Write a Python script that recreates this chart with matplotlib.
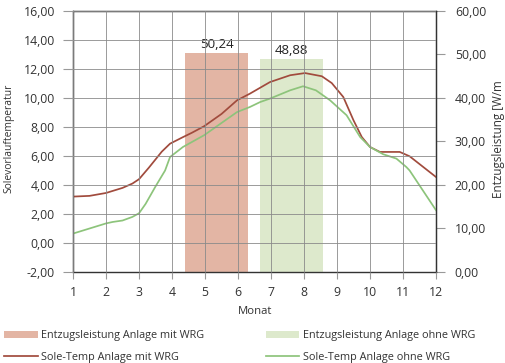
import matplotlib
matplotlib.use("Agg")
import matplotlib.pyplot as plt
from matplotlib.ticker import FuncFormatter, MultipleLocator

plt.rcParams['font.family'] = ['Open Sans', 'DejaVu Sans']

# Sole-Temperatur (Monat, Wert)
mit_x = [1.0, 1.5, 2.0, 2.5, 2.8, 3.0, 3.3, 3.69, 3.94, 4.33, 4.6, 4.97, 5.5, 5.97,
         6.36, 6.97, 7.58, 8.03, 8.54, 8.84, 9.19, 9.5, 9.75, 10.0, 10.3, 10.9,
         11.2, 12.0]
mit_y = [3.2, 3.25, 3.45, 3.8, 4.1, 4.4, 5.2, 6.3, 6.85, 7.3, 7.6, 8.05, 8.9, 9.84,
         10.3, 11.1, 11.57, 11.72, 11.5, 11.03, 10.07, 8.46, 7.31, 6.62, 6.28, 6.28,
         5.98, 4.55]

ohne_x = [1.0, 1.5, 2.0, 2.2, 2.5, 2.8, 3.0, 3.2, 3.5, 3.79, 3.94, 4.33, 4.97, 5.97,
          6.36, 6.67, 6.97, 7.58, 7.97, 8.36, 8.79, 9.29, 9.7, 10.0, 10.4, 10.8,
          11.1, 11.2, 12.0]
ohne_y = [0.65, 1.0, 1.35, 1.45, 1.55, 1.8, 2.05, 2.7, 3.9, 5.0, 5.93, 6.62, 7.43, 9.03,
          9.38, 9.72, 9.96, 10.53, 10.81, 10.53, 9.84, 8.81, 7.31, 6.62, 6.12, 5.82,
          5.24, 5.0, 2.26]

# Entzugsleistung [W/m]
bar_labels = ["Entzugsleistung Anlage mit WRG", "Entzugsleistung Anlage ohne WRG"]
bar_values = [50.24, 48.88]
bar_pos = [5.35, 7.62]

months = list(range(1, 13))

red_line = "#a14b3d"
green_line = "#8dc47b"
red_bar = "#e3b5a4"
green_bar = "#dde9cc"
txt = "#333333"

fig = plt.figure(figsize=(5.06, 3.63), dpi=100)
ax = fig.add_axes([0.1443, 0.2507, 0.7174, 0.719])
ax2 = ax.twinx()
ax.set_zorder(2)
ax.patch.set_visible(False)

bars = ax2.bar(bar_pos, bar_values, width=1.91, color=[red_bar, green_bar],
               linewidth=0)
for b, v in zip(bars, bar_values):
    ax2.annotate(("%.2f" % v).replace(".", ","),
                 (b.get_x() + b.get_width() / 2, v),
                 xytext=(0, 2), textcoords="offset points",
                 ha="center", va="bottom", fontsize=9.5, color="#222222")

l1, = ax.plot(mit_x, mit_y, color=red_line, lw=1.25)
l2, = ax.plot(ohne_x, ohne_y, color=green_line, lw=1.25)

comma = FuncFormatter(lambda v, p: ("%.2f" % v).replace(".", ","))

ax.set_xlim(1, 12)
ax.set_ylim(-2, 16)
ax.set_xticks(months)
ax.yaxis.set_major_locator(MultipleLocator(2))
ax.yaxis.set_major_formatter(comma)
ax.grid(True, color="#8a8a8a", lw=0.6)
ax.set_axisbelow(False)

ax2.set_ylim(0, 60)
ax2.yaxis.set_major_locator(MultipleLocator(10))
ax2.yaxis.set_major_formatter(comma)

for a in (ax, ax2):
    for s in a.spines.values():
        s.set_color("#333333")
        s.set_linewidth(0.9)
ax2.spines["bottom"].set_color("#777777")
ax.tick_params(axis="y", labelsize=8.8, colors="#999999", labelcolor=txt,
               length=7, width=0.8, pad=6)
ax.tick_params(axis="x", labelsize=8.8, colors="#999999", labelcolor=txt,
               length=5, width=0.8, pad=5)
ax2.tick_params(axis="y", labelsize=8.8, colors="#999999", labelcolor=txt,
                length=6.5, width=0.8, pad=7)

ax.set_ylabel("Solevorlauftemperatur", fontsize=7.4, color=txt)
ax.yaxis.set_label_coords(-0.1625, 0.513)
ax2.set_ylabel("Entzugsleistung [W/m", fontsize=8.4, color=txt)
ax2.yaxis.set_label_coords(1.154, 0.511)
ax.set_xlabel("Monat", fontsize=8.2, color=txt)
ax.xaxis.set_label_coords(0.501, -0.13)

fig.legend([bars[0], l1, bars[1], l2],
           [bar_labels[0], "Sole-Temp Anlage mit WRG",
            bar_labels[1], "Sole-Temp Anlage ohne WRG"],
           ncol=2, loc="lower left", bbox_to_anchor=(-0.005, -0.018),
           frameon=False, fontsize=7.8, handlelength=3.1, handletextpad=0.3,
           columnspacing=5.7, labelspacing=1.0, borderaxespad=0.2,
           labelcolor=txt)

fig.savefig("out.png", dpi=100)
